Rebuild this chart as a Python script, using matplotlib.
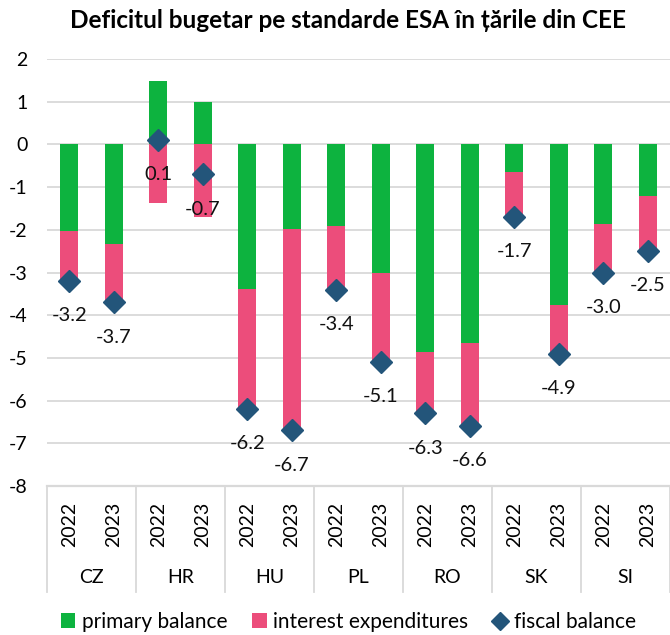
import matplotlib
matplotlib.use('Agg')
import matplotlib.pyplot as plt
from matplotlib.transforms import blended_transform_factory
from matplotlib.lines import Line2D
from matplotlib.patches import Patch

plt.rcParams['font.family'] = ['Lato', 'DejaVu Sans']

countries = ['CZ', 'HR', 'HU', 'PL', 'RO', 'SK', 'SI']
years = ['2022', '2023']
primary_balance = [-2.02, -2.34, 1.48, 1.0, -3.39, -1.98, -1.91, -3.02,
                   -4.87, -4.66, -0.64, -3.75, -1.87, -1.22]
interest_expenditures = [-1.18, -1.36, -1.37, -1.70, -2.81, -4.72, -1.49, -2.08,
                         -1.43, -1.94, -1.06, -1.15, -1.13, -1.28]
fiscal_balance = [-3.2, -3.7, 0.1, -0.7, -6.2, -6.7, -3.4, -5.1,
                  -6.3, -6.6, -1.7, -4.9, -3.0, -2.5]
yticks = list(range(-8, 3))

GREEN = '#0DB33F'
PINK = '#EC4D7B'
BLUE = '#23557A'
GRID = '#D9D9D9'

W, H = 670, 635
fig = plt.figure(figsize=(W / 100, H / 100), dpi=100)
left, right, top, bottom = 47, 670, 59, 486
ax = fig.add_axes([left / W, 1 - bottom / H, (right - left) / W, (bottom - top) / H])

n = len(countries) * len(years)
x = list(range(n))
int_bottom = [p if p < 0 else 0 for p in primary_balance]

ax.bar(x, primary_balance, width=0.4, color=GREEN, zorder=2)
ax.bar(x, interest_expenditures, width=0.4, bottom=int_bottom, color=PINK, zorder=2)
ax.plot(x, fiscal_balance, linestyle='none', marker='D', markersize=11,
        color=BLUE, zorder=3)
for xi, v in zip(x, fiscal_balance):
    ax.annotate(f'{v:.1f}', (xi, v), xytext=(0, -25), textcoords='offset points',
                ha='center', va='center', fontsize=14.5, color='#111111', zorder=4)

ax.set_xlim(-0.5, n - 0.5)
ax.set_ylim(-8, 2)
ax.set_yticks(yticks)
ax.set_yticklabels([str(t) for t in yticks])
ax.tick_params(axis='y', length=0, pad=14, labelsize=14)
ax.tick_params(axis='x', length=0, labelbottom=False)
ax.set_xticks([])
ax.yaxis.grid(True, color=GRID, linewidth=1.3, zorder=0)
ax.set_axisbelow(True)
for s in ax.spines.values():
    s.set_visible(False)
ax.axhline(-8, color=GRID, linewidth=1.6, clip_on=False, zorder=1)

tr = blended_transform_factory(ax.transData, ax.transAxes)
for i, c in enumerate(countries):
    for j, yr in enumerate(years):
        ax.text(2 * i + j, -0.089, yr, rotation=90, ha='center', va='center',
                fontsize=14, transform=tr)
    ax.text(2 * i + 0.5, -0.215, c, ha='center', va='center', fontsize=14,
            transform=tr)
for k in range(len(countries) + 1):
    ax.add_line(Line2D([2 * k - 0.5, 2 * k - 0.5], [0, -0.248], transform=tr,
                       color=GRID, linewidth=1.3, clip_on=False))

fig.text(0.52, 1 - 21 / H, 'Deficitul bugetar pe standarde ESA în țările din CEE',
         ha='center', va='center', fontsize=17.5, fontweight='bold')

handles = [Patch(facecolor=GREEN, edgecolor='none'),
           Patch(facecolor=PINK, edgecolor='none'),
           Line2D([], [], linestyle='none', marker='D', markersize=9, color=BLUE)]
labels = ['primary balance', 'interest expenditures', 'fiscal balance']
fig.legend(handles, labels, loc='center', bbox_to_anchor=(0.52, 1 - 622 / H),
           ncol=3, frameon=False, fontsize=15, handlelength=0.7, handleheight=0.7,
           handletextpad=0.3, columnspacing=1.2)

fig.savefig('out.png', dpi=100)
